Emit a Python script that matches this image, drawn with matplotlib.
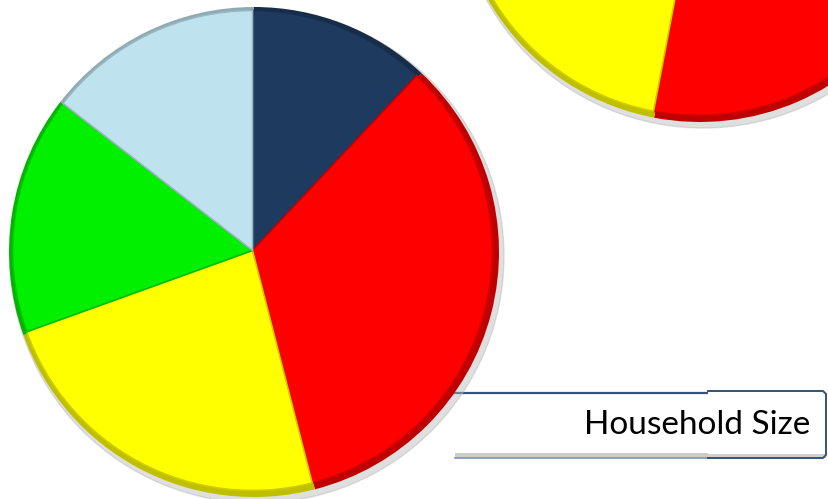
import numpy as np
import matplotlib
matplotlib.use("Agg")
import matplotlib.pyplot as plt
from matplotlib.patches import Rectangle, Circle
from matplotlib.colors import to_rgb

# household size shares (clockwise from 12 o'clock)
labels = ["1", "2", "3", "4", "5+"]
main_vals = [12, 34, 23.5, 16, 14.5]
second_vals = [15, 38, 22, 13, 12]
colors = ["#1E3A5F", "#FF0000", "#FFFF00", "#00F000", "#BEE3EF"]
title_text = "Household Size"


def shade(c, f):
    r, g, b = to_rgb(c)
    return (r * f, g * f, b * f)


def bevel_pie(ax, vals, center, radius):
    cx, cy = center
    # drop shadow
    ax.add_patch(Circle((cx + 3, cy - 4), radius + 2, color="#b8b8b8", alpha=0.45, zorder=2))
    w1, _ = ax.pie(vals, colors=[shade(c, 0.75) for c in colors], startangle=90,
                   counterclock=False, center=center, radius=radius,
                   wedgeprops=dict(linewidth=0))
    for w in w1:
        w.set_zorder(3)
    w2, _ = ax.pie(vals, colors=colors, startangle=90, counterclock=False,
                   center=(cx - 1.5, cy + 1.5), radius=radius - 5,
                   wedgeprops=dict(linewidth=1.2))
    for w, c in zip(w2, colors):
        w.set_edgecolor(shade(c, 0.8))
        w.set_zorder(4)


fig = plt.figure(figsize=(8.29, 4.99), dpi=100)
ax = fig.add_axes([0, 0, 1, 1])

# label box, left part
ax.add_patch(Rectangle((455, 44), 255, 62, facecolor="white", edgecolor="none", zorder=1))
ax.plot([455, 708], [106, 106], color="#34527a", lw=1.6, zorder=1)
ax.add_patch(Rectangle((455, 41), 253, 5, facecolor="#cccccc", edgecolor="none", zorder=1))
ax.plot([455, 708], [41, 41], color="#7f93b3", lw=1.2, zorder=1)
# label box, right part (no left edge)
ax.add_patch(Rectangle((708, 41), 118, 67, facecolor="white", edgecolor="none", zorder=1))
ax.add_patch(Rectangle((708, 41), 118, 4, facecolor="#d0d0d0", edgecolor="none", zorder=1))
ax.plot([708, 823, 826, 826, 823, 708], [108, 108, 105, 44, 41, 41],
        color="#34527a", lw=1.4, zorder=1, solid_joinstyle="round")
ax.text(810, 74, title_text, ha="right", va="center", fontsize=24,
        family=["Lato", "DejaVu Sans"], color="black", zorder=5)

bevel_pie(ax, second_vals, (700, 622), 245)
bevel_pie(ax, main_vals, (254, 247), 245)

ax.set_xlim(0, 829)
ax.set_ylim(0, 499)
ax.set_aspect("equal")
ax.axis("off")
fig.savefig("out.png", dpi=100, facecolor="white")
